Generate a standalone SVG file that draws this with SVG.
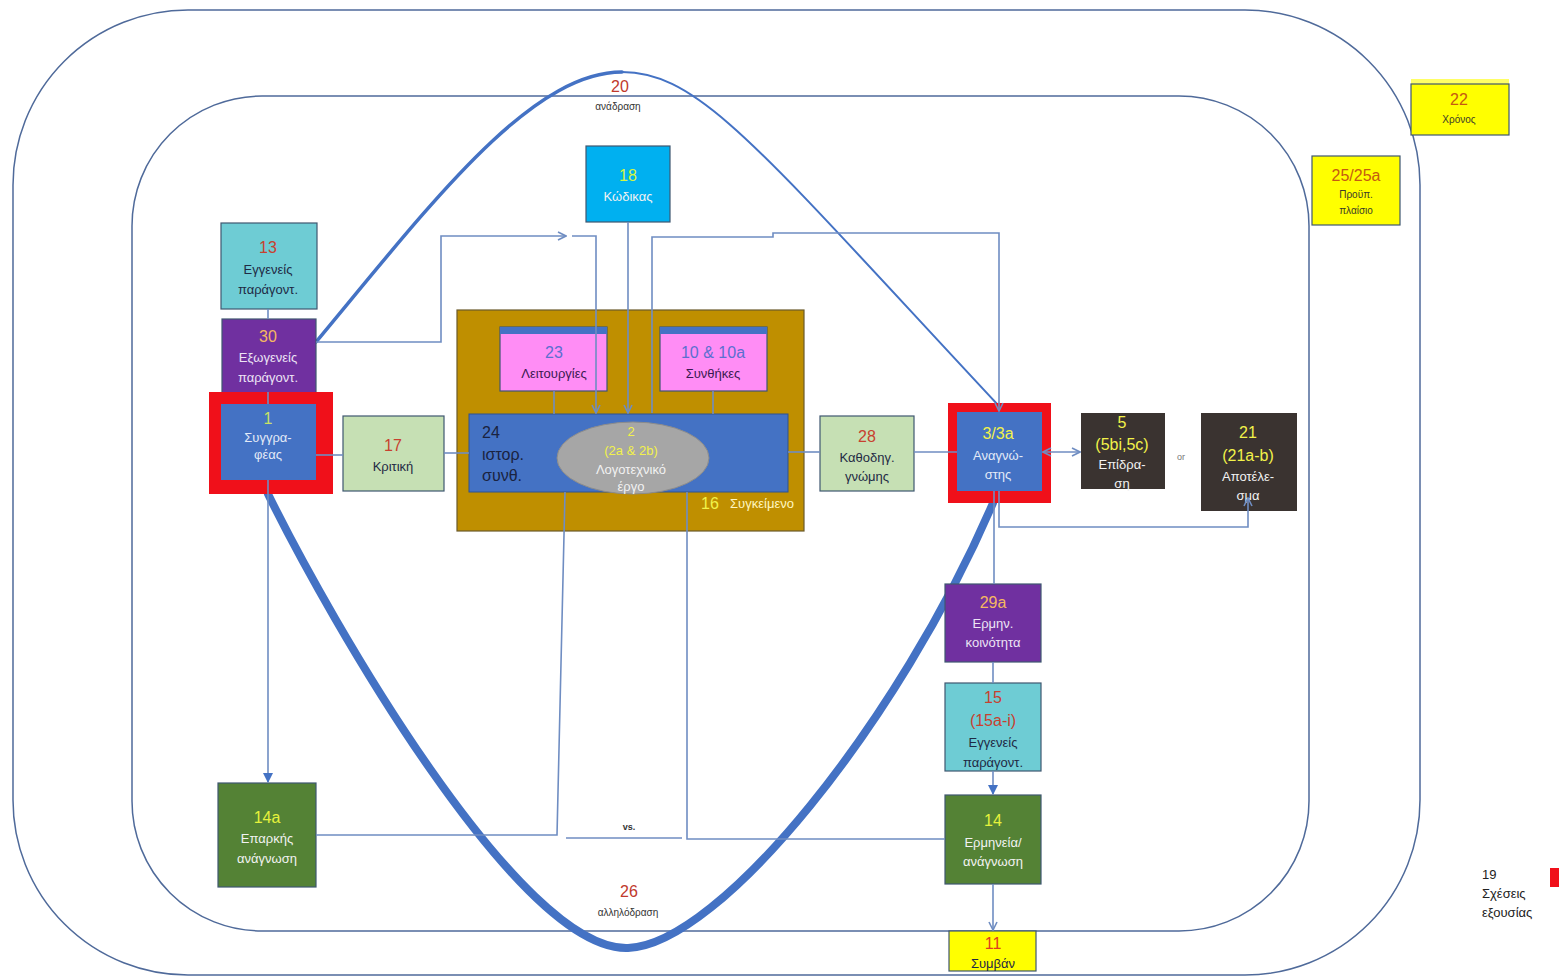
<svg xmlns="http://www.w3.org/2000/svg" width="1559" height="977" viewBox="0 0 1559 977">
<defs>
<style>
text{font-family:"Liberation Sans","DejaVu Sans",sans-serif;text-anchor:middle;dominant-baseline:central}
.n{font-size:16px}
.l{font-size:13px}
.s{font-size:10px}
.box{stroke:#3F5770;stroke-width:1.2}
.con{fill:none;stroke:#6F8DC2;stroke-width:1.6}
.frame{fill:none;stroke:#4F6A9A;stroke-width:1.5}
.loop{fill:none;stroke:#4472C4;stroke-linecap:round}
.red{fill:#C8402F}
.dark{fill:#1F2A44}
.wh{fill:#F2F2F2}
.yl{fill:#F2F24A}
</style>
<marker id="open" viewBox="0 0 10 10" refX="9" refY="5" markerWidth="10" markerHeight="10" markerUnits="userSpaceOnUse" orient="auto-start-reverse">
<path d="M1,1 L9,5 L1,9" fill="none" stroke="#6F8DC2" stroke-width="1.6"/>
</marker>
<marker id="fill" viewBox="0 0 10 10" refX="9" refY="5" markerWidth="10" markerHeight="10" markerUnits="userSpaceOnUse" orient="auto">
<path d="M0,0 L10,5 L0,10 Z" fill="#4472C4"/>
</marker>
</defs>
<rect width="1559" height="977" fill="#FFFFFF"/>
<rect class="frame" x="13" y="10" width="1407" height="965" rx="175" ry="175"/>
<rect class="frame" x="132" y="96" width="1177" height="835" rx="130" ry="130"/>

<g id="loop">
<path class="loop" d="M268 494 C330 620 520 952 628 948 C720 945 900 720 993 503" stroke-width="8"/>
<path class="loop" d="M316 342 C430 205 530 72 622 72" stroke-width="3.5"/>
<path class="loop" d="M622 72 C700 72 760 150 998 405" stroke-width="2"/>
</g>

<g id="labels">
<text class="n" x="620" y="86" fill="#C0392B">20</text>
<text class="s" x="618" y="106" fill="#333">ανάδραση</text>
<text class="n" x="629" y="891" fill="#C0392B">26</text>
<text class="s" x="628" y="912" fill="#333">αλληλόδραση</text>
<text x="629" y="827" font-size="9" font-weight="bold" fill="#333">vs.</text>
<text x="1181" y="457" font-size="9" fill="#777">or</text>
</g>

<g id="n13">
<rect class="box" x="221" y="223" width="96" height="86" fill="#6ECCD4"/>
<text class="n red" x="268" y="247">13</text>
<text class="l dark" x="268" y="269">Εγγενείς</text>
<text class="l dark" x="268" y="289">παράγοντ.</text>
</g>
<g id="n30">
<rect class="box" x="222" y="319" width="94" height="80" fill="#7030A0"/>
<text class="n" x="268" y="336" fill="#F5B860">30</text>
<text class="l" x="268" y="357" fill="#EDE4F5">Εξωγενείς</text>
<text class="l" x="268" y="377" fill="#EDE4F5">παράγοντ.</text>
</g>
<g id="n1">
<rect x="209" y="392" width="124" height="102" fill="#F0101A"/>
<rect x="221" y="404" width="95" height="76" fill="#4472C4"/>
<text class="n" x="268" y="418" fill="#C9E265">1</text>
<text class="l" x="268" y="437" fill="#E3EAF7">Συγγρα-</text>
<text class="l" x="268" y="454" fill="#E3EAF7">φέας</text>
</g>
<g id="n17">
<rect class="box" x="343" y="416" width="101" height="75" fill="#C6E0B4"/>
<text class="n red" x="393" y="445">17</text>
<text class="l dark" x="393" y="466">Κριτική</text>
</g>
<g id="n16">
<rect x="457" y="310" width="347" height="221" fill="#BF8F00" stroke="#6B5A2A" stroke-width="1.2"/>
<text x="710" y="503" class="n" fill="#F2F24A">16</text>
<text x="762" y="503" class="l" fill="#FFF7C0">Συγκείμενο</text>
</g>
<g id="n23">
<rect class="box" x="500" y="327" width="107" height="64" fill="#FF8DF5"/>
<rect x="500" y="327" width="107" height="7" fill="#4472C4"/>
<text class="n" x="554" y="352" fill="#5B6FD0">23</text>
<text class="l" x="554" y="373" fill="#3A1A50">Λειτουργίες</text>
</g>
<g id="n10">
<rect class="box" x="660" y="327" width="107" height="64" fill="#FF8DF5"/>
<rect x="660" y="327" width="107" height="7" fill="#4472C4"/>
<text class="n" x="713" y="352" fill="#5B6FD0">10 &amp; 10a</text>
<text class="l" x="713" y="373" fill="#3A1A50">Συνθήκες</text>
</g>
<g id="n24">
<rect x="469" y="414" width="319" height="78" fill="#4472C4" stroke="#2F528F" stroke-width="1"/>
<text class="n" x="482" y="432" fill="#1A2340" style="text-anchor:start">24</text>
<text class="n" x="482" y="454" fill="#1A2340" style="text-anchor:start">ιστορ.</text>
<text class="n" x="482" y="475" fill="#1A2340" style="text-anchor:start">συνθ.</text>
</g>
<g id="n2">
<ellipse cx="633" cy="458" rx="76" ry="36" fill="#A6A6A6" stroke="#8C8C8C" stroke-width="1"/>
<text class="l" x="631" y="431" fill="#F2F24A">2</text>
<text class="l" x="631" y="450" fill="#F2F24A">(2a &amp; 2b)</text>
<text class="l" x="631" y="469" fill="#F2F2F2">Λογοτεχνικό</text>
<text class="l" x="631" y="486" fill="#F2F2F2">έργο</text>
</g>
<g id="n18">
<rect class="box" x="586" y="146" width="84" height="76" fill="#00B0F0"/>
<text class="n" x="628" y="175" fill="#D4F542">18</text>
<text class="l" x="628" y="196" fill="#F2F2F2">Κώδικας</text>
</g>
<g id="n28">
<rect class="box" x="820" y="416" width="94" height="75" fill="#C6E0B4"/>
<text class="n red" x="867" y="436">28</text>
<text class="l dark" x="867" y="457">Καθοδηγ.</text>
<text class="l dark" x="867" y="476">γνώμης</text>
</g>
<g id="n3">
<rect x="948" y="403" width="103" height="100" fill="#F0101A"/>
<rect x="957" y="412" width="85" height="79" fill="#4472C4"/>
<text class="n" x="998" y="433" fill="#F2F24A">3/3a</text>
<text class="l" x="998" y="455" fill="#E3EAF7">Αναγνώ-</text>
<text class="l" x="998" y="474" fill="#E3EAF7">στης</text>
</g>
<g id="n5">
<rect x="1081" y="413" width="84" height="76" fill="#3A3330"/>
<text class="n" x="1122" y="422" fill="#F2F24A">5</text>
<text class="n" x="1122" y="444" fill="#F2F24A">(5bi,5c)</text>
<text class="l wh" x="1122" y="464">Επίδρα-</text>
<text class="l wh" x="1122" y="483">ση</text>
</g>
<g id="n21">
<rect x="1201" y="413" width="96" height="98" fill="#3A3330"/>
<text class="n" x="1248" y="432" fill="#F2F24A">21</text>
<text class="n" x="1248" y="455" fill="#F2F24A">(21a-b)</text>
<text class="l wh" x="1248" y="476">Αποτέλε-</text>
<text class="l wh" x="1248" y="495">σμα</text>
</g>
<g id="n29a">
<rect class="box" x="945" y="584" width="96" height="78" fill="#7030A0"/>
<text class="n" x="993" y="602" fill="#F5B860">29a</text>
<text class="l" x="993" y="623" fill="#EDE4F5">Ερμην.</text>
<text class="l" x="993" y="642" fill="#EDE4F5">κοινότητα</text>
</g>
<g id="n15">
<rect class="box" x="945" y="683" width="96" height="88" fill="#6ECCD4"/>
<text class="n red" x="993" y="697">15</text>
<text class="n red" x="993" y="720">(15a-i)</text>
<text class="l dark" x="993" y="742">Εγγενείς</text>
<text class="l dark" x="993" y="762">παράγοντ.</text>
</g>
<g id="n14">
<rect class="box" x="945" y="795" width="96" height="89" fill="#548235"/>
<text class="n" x="993" y="820" fill="#E6F23C">14</text>
<text class="l wh" x="993" y="842">Ερμηνεία/</text>
<text class="l wh" x="993" y="861">ανάγνωση</text>
</g>
<g id="n11">
<rect class="box" x="949" y="931" width="87" height="40" fill="#FFFF00"/>
<text class="n" x="993" y="943" fill="#E03C1E">11</text>
<text class="l dark" x="993" y="963">Συμβάν</text>
</g>
<g id="n14a">
<rect class="box" x="218" y="783" width="98" height="104" fill="#548235"/>
<text class="n" x="267" y="817" fill="#E6F23C">14a</text>
<text class="l wh" x="267" y="838">Επαρκής</text>
<text class="l wh" x="267" y="858">ανάγνωση</text>
</g>
<g id="n22">
<rect x="1411" y="79" width="98" height="6" fill="#FFFF66"/>
<rect class="box" x="1411" y="84" width="98" height="51" fill="#FFFF00"/>
<text class="n" x="1459" y="99" fill="#C55A11">22</text>
<text class="s" x="1459" y="119" fill="#3A3A2A">Χρόνος</text>
</g>
<g id="n25">
<rect class="box" x="1312" y="156" width="88" height="69" fill="#FFFF00"/>
<text class="n" x="1356" y="175" fill="#C55A11">25/25a</text>
<text class="s" x="1356" y="194" fill="#3A3A2A">Προϋπ.</text>
<text class="s" x="1356" y="210" fill="#3A3A2A">πλαίσιο</text>
</g>
<g id="n19">
<text class="l" x="1482" y="874" fill="#222" style="text-anchor:start">19</text>
<text class="l" x="1482" y="893" fill="#222" style="text-anchor:start">Σχέσεις</text>
<text class="l" x="1482" y="912" fill="#222" style="text-anchor:start">εξουσίας</text>
<rect x="1550" y="868" width="9" height="19" fill="#F0101A"/>
</g>

<g id="connectors">
<line class="con" x1="268" y1="309" x2="268" y2="319"/>
<line class="con" x1="268" y1="392" x2="268" y2="404"/>
<polyline class="con" points="316,342 441,342 441,236 566,236" marker-end="url(#open)"/>
<polyline class="con" points="572,236 596,236 596,413" marker-end="url(#open)"/>
<line class="con" x1="628" y1="222" x2="628" y2="413" marker-end="url(#open)"/>
<polyline class="con" points="652,413 652,237 773,237 773,233 999,233 999,411" marker-end="url(#open)"/>
<line class="con" x1="316" y1="455" x2="343" y2="455"/>
<line class="con" x1="444" y1="453" x2="469" y2="453"/>
<line class="con" x1="788" y1="452" x2="820" y2="452"/>
<line class="con" x1="914" y1="452" x2="957" y2="452"/>
<line class="con" x1="1043" y1="452" x2="1080" y2="452" marker-start="url(#open)" marker-end="url(#open)"/>
<line class="con" x1="554" y1="391" x2="554" y2="414"/>
<line class="con" x1="713" y1="391" x2="713" y2="414"/>
<polyline class="con" points="999,491 999,527 1248,527 1248,498" marker-end="url(#open)"/>
<line class="con" x1="994" y1="491" x2="994" y2="584"/>
<line class="con" x1="993" y1="662" x2="993" y2="683"/>
<line class="con" x1="993" y1="771" x2="993" y2="794" marker-end="url(#fill)"/>
<line class="con" x1="993" y1="884" x2="993" y2="930" marker-end="url(#open)"/>
<line class="con" x1="268" y1="480" x2="268" y2="782" marker-end="url(#fill)"/>
<polyline class="con" points="316,835 557,835 565,492"/>
<line class="con" x1="566" y1="838" x2="682" y2="838"/>
<polyline class="con" points="687,492 687,839 945,839"/>
</g>
</svg>
